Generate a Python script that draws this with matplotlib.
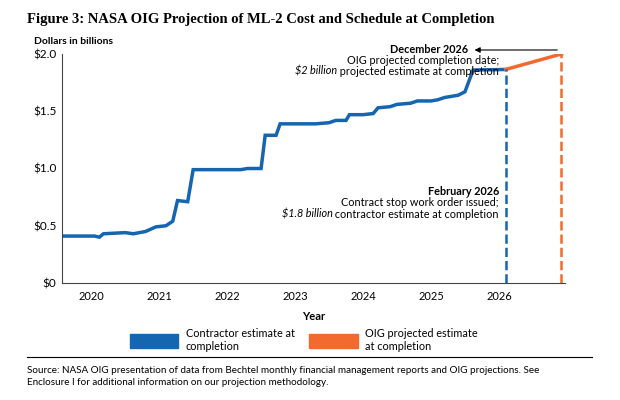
import matplotlib

matplotlib.use("Agg")
import matplotlib.pyplot as plt
from matplotlib.lines import Line2D
from matplotlib.patches import Patch

plt.rcParams["font.family"] = ["Lato", "DejaVu Sans"]

# contractor estimate at completion, $ billions, by decimal year
contractor_x = [2019.6, 2020.05, 2020.12, 2020.18, 2020.5, 2020.62, 2020.8, 2020.95, 2021.1,
                2021.2, 2021.27, 2021.42, 2021.5, 2022.2, 2022.3, 2022.5, 2022.56, 2022.72,
                2022.78, 2023.3, 2023.5, 2023.6, 2023.75, 2023.8, 2024.0, 2024.15, 2024.22,
                2024.4, 2024.5, 2024.7, 2024.8, 2025.0, 2025.1, 2025.2, 2025.4, 2025.5,
                2025.62, 2026.1]
contractor_y = [0.41, 0.41, 0.40, 0.43, 0.44, 0.43, 0.45, 0.49, 0.50,
                0.54, 0.72, 0.71, 0.99, 0.99, 1.00, 1.00, 1.29, 1.29,
                1.39, 1.39, 1.40, 1.42, 1.42, 1.47, 1.47, 1.48, 1.53,
                1.54, 1.56, 1.57, 1.59, 1.59, 1.60, 1.62, 1.64, 1.67,
                1.86, 1.865]
oig_x = [2026.1, 2026.92]
oig_y = [1.865, 2.0]
years = [2020, 2021, 2022, 2023, 2024, 2025, 2026]
y_ticks = [0, 0.5, 1.0, 1.5, 2.0]
y_labels = ["$0", "$0.5", "$1.0", "$1.5", "$2.0"]

blue = "#1565b0"
orange = "#f26a2e"


def mixed_line(ax, x, y, italic, rest):
    # right-aligned line with an italic leading part
    t = ax.text(x, y, rest, fontsize=7.8, ha="right", va="center")
    ax.annotate(italic, xy=(0, 0.5), xycoords=t, ha="right", va="center",
                fontsize=7.8, fontstyle="italic")


fig = plt.figure(figsize=(6.2, 4.0), dpi=100)
ax = fig.add_axes([0.1, 0.2925, 0.811, 0.5725])
ax.plot(contractor_x, contractor_y, color=blue, linewidth=2.5, solid_joinstyle="miter")
ax.plot(oig_x, oig_y, color=orange, linewidth=2.5)
ax.plot([oig_x[0], oig_x[0]], [0, oig_y[0]], color=blue, linestyle="--", linewidth=1.8)
ax.plot([oig_x[1], oig_x[1]], [0, oig_y[1]], color=orange, linestyle="--", linewidth=1.8)

ax.set_xlim(2019.57, 2026.97)
ax.set_ylim(0, 2.0)
ax.set_xticks(years)
ax.set_xticklabels([str(y) for y in years], fontsize=8)
ax.set_yticks(y_ticks)
ax.set_yticklabels(y_labels, fontsize=8.5)
ax.tick_params(axis="x", length=0, pad=6)
ax.tick_params(axis="y", length=0, pad=4)
for s in ["top", "right"]:
    ax.spines[s].set_visible(False)
ax.spines["left"].set_color("#444444")
ax.spines["bottom"].set_color("#444444")
ax.set_xlabel("Year", fontsize=8, fontweight="bold", labelpad=6)

ax.annotate("", xy=(2025.6, 2.035), xytext=(2026.9, 2.035),
            arrowprops=dict(arrowstyle="-|>", color="black", lw=0.8, mutation_scale=8),
            annotation_clip=False)
ax.text(2025.55, 2.035, "December 2026", fontsize=7.8, fontweight="bold", ha="right", va="center")
ax.text(2026.0, 1.945, "OIG projected completion date;", fontsize=7.8, ha="right", va="center")
mixed_line(ax, 2026.0, 1.85, "$2 billion", " projected estimate at completion")
ax.text(2026.0, 0.80, "February 2026", fontsize=7.8, fontweight="bold", ha="right", va="center")
ax.text(2026.0, 0.70, "Contract stop work order issued;", fontsize=7.8, ha="right", va="center")
mixed_line(ax, 2026.0, 0.60, "$1.8 billion", " contractor estimate at completion")

fig.text(0.043, 0.95, "Figure 3: NASA OIG Projection of ML-2 Cost and Schedule at Completion",
         fontsize=10.5, fontweight="bold", family="Liberation Serif", va="center")
fig.text(0.055, 0.895, "Dollars in billions", fontsize=7.5, fontweight="bold", va="center")

handles = [Patch(color=blue), Patch(color=orange)]
fig.legend(handles, ["Contractor estimate at\ncompletion", "OIG projected estimate\nat completion"],
           loc="center", bbox_to_anchor=(0.49, 0.15), ncol=2, frameon=False, fontsize=7.8,
           handlelength=4.5, handleheight=1.7, columnspacing=1.3, handletextpad=0.7)

fig.add_artist(Line2D([0.043, 0.955], [0.107, 0.107], color="black", lw=0.8))
fig.text(0.043, 0.058, "Source: NASA OIG presentation of data from Bechtel monthly financial management reports and OIG projections. See\n"
         "Enclosure I for additional information on our projection methodology.", fontsize=7.1,
         va="center", linespacing=1.4)

fig.savefig("out.png", dpi=100)
